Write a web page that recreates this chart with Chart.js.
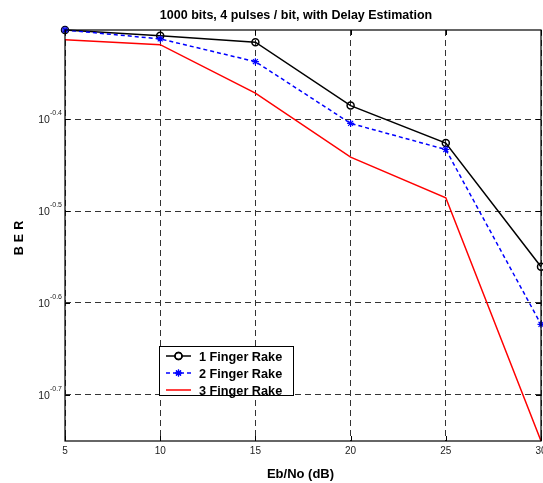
<!DOCTYPE html>
<html><head><meta charset="utf-8">
<script src="https://cdn.jsdelivr.net/npm/chart.js@4.4.0/dist/chart.umd.min.js"></script>
<style>html,body{margin:0;padding:0;background:#fff;overflow:hidden;}canvas{display:block;}</style>
</head><body>
<canvas id="c" width="551" height="483"></canvas>
<script>
const ebno = [5, 10, 15, 20, 25, 30];
const finger1 = [0.498, 0.491, 0.483, 0.412, 0.375, 0.275];
const finger2 = [0.498, 0.487, 0.460, 0.394, 0.369, 0.238];
const finger3 = [0.486, 0.480, 0.425, 0.362, 0.327, 0.1776];
const xTicks = [5, 10, 15, 20, 25, 30];
const yTickExponents = ['-0.7', '-0.6', '-0.5', '-0.4'];
const seriesNames = ['1 Finger Rake', '2 Finger Rake', '3 Finger Rake'];
const titleText = '1000 bits, 4 pulses / bit, with Delay Estimation';
const xLabel = 'Eb/No (dB)';
const yLabel = 'BER';

const FONT = '"Liberation Sans", Arial, Helvetica, sans-serif';
const toPts = arr => arr.map((v, i) => ({x: ebno[i], y: v}));
const yTickValues = yTickExponents.map(e => Math.pow(10, parseFloat(e)));

const datasets = [
  {label: seriesNames[0], data: toPts(finger1), borderColor: '#000', borderWidth: 1.5,
   pointStyle: 'circle', pointRadius: 3.5, pointBorderWidth: 1.5, pointBorderColor: '#000',
   pointBackgroundColor: 'rgba(0,0,0,0)', order: 3},
  {label: seriesNames[1], data: toPts(finger2), borderColor: '#0000ff', borderWidth: 1.5,
   borderDash: [4, 3], pointStyle: 'star', pointRadius: 3.5, pointBorderWidth: 1.2,
   pointBorderColor: '#0000ff', pointBackgroundColor: '#0000ff', order: 2},
  {label: seriesNames[2], data: toPts(finger3), borderColor: '#ff0000', borderWidth: 1.5,
   pointRadius: 0, order: 1}
];

const decor = {
  id: 'decor',
  afterDraw(chart) {
    const ctx = chart.ctx, a = chart.chartArea;
    const xs = chart.scales.x, ys = chart.scales.y;
    ctx.save();
    // frame
    ctx.strokeStyle = '#000'; ctx.lineWidth = 1.2; ctx.setLineDash([]);
    ctx.strokeRect(a.left, a.top, a.right - a.left, a.bottom - a.top);
    // inward ticks
    ctx.lineWidth = 1;
    ctx.beginPath();
    xTicks.forEach(t => {
      const px = Math.round(xs.getPixelForValue(t)) + 0.5;
      ctx.moveTo(px, a.bottom); ctx.lineTo(px, a.bottom - 5);
      ctx.moveTo(px, a.top); ctx.lineTo(px, a.top + 5);
    });
    yTickValues.forEach(v => {
      const py = Math.round(ys.getPixelForValue(v)) + 0.5;
      ctx.moveTo(a.left, py); ctx.lineTo(a.left + 5, py);
      ctx.moveTo(a.right, py); ctx.lineTo(a.right - 5, py);
    });
    ctx.stroke();
    // x tick labels
    ctx.fillStyle = '#222';
    ctx.font = '10px ' + FONT;
    ctx.textAlign = 'center'; ctx.textBaseline = 'middle';
    xTicks.forEach(t => ctx.fillText(String(t), xs.getPixelForValue(t), a.bottom + 10));
    // y tick labels with superscript
    yTickExponents.forEach((e, i) => {
      const py = ys.getPixelForValue(yTickValues[i]);
      ctx.font = '7px ' + FONT;
      const sw = ctx.measureText(e).width;
      ctx.textAlign = 'right'; ctx.textBaseline = 'middle';
      ctx.fillText(e, a.left - 3, py - 6);
      ctx.font = '10.5px ' + FONT;
      ctx.fillText('10', a.left - 3 - sw, py + 1);
    });
    // title
    ctx.fillStyle = '#000';
    ctx.font = 'bold 12.5px ' + FONT;
    ctx.textAlign = 'center'; ctx.textBaseline = 'middle';
    ctx.fillText(titleText, 296, 16);
    // x label
    ctx.font = 'bold 13px ' + FONT;
    ctx.fillText(xLabel, 300.5, 474);
    // y label
    ctx.save();
    ctx.translate(20, 238);
    ctx.rotate(-Math.PI / 2);
    ctx.font = 'bold 12.5px ' + FONT;
    ctx.textAlign = 'left';
    try { ctx.letterSpacing = '4px'; } catch (err) {}
    const lw = ctx.measureText(yLabel).width;
    ctx.fillText(yLabel, -(lw - 4) / 2, 0);
    ctx.restore();
    // legend
    const bx = 159.5, by = 346.5, bw = 134, bh = 49;
    ctx.fillStyle = '#fff';
    ctx.fillRect(bx, by, bw, bh);
    ctx.strokeStyle = '#000'; ctx.lineWidth = 1;
    ctx.strokeRect(bx, by, bw, bh);
    const rows = [356, 373, 390];
    datasets.forEach((d, i) => {
      const y = rows[i];
      ctx.strokeStyle = d.borderColor; ctx.lineWidth = d.borderWidth;
      ctx.setLineDash(d.borderDash || []);
      ctx.beginPath(); ctx.moveTo(166, y); ctx.lineTo(191, y); ctx.stroke();
      ctx.setLineDash([]);
      if (d.pointRadius > 0) {
        ctx.lineWidth = d.pointBorderWidth;
        Chart.helpers.drawPoint(ctx, {pointStyle: d.pointStyle, radius: d.pointRadius,
          borderWidth: d.pointBorderWidth, rotation: 0}, 178.5, y);
        ctx.strokeStyle = d.pointBorderColor;
        ctx.stroke();
      }
      ctx.fillStyle = '#000';
      ctx.font = 'bold 12.7px ' + FONT;
      ctx.textAlign = 'left'; ctx.textBaseline = 'middle';
      ctx.fillText(d.label, 199, y + 1);
    });
    ctx.restore();
  }
};

new Chart(document.getElementById('c'), {
  type: 'line',
  data: {datasets},
  options: {
    responsive: false, animation: false,
    layout: {padding: {left: 65, top: 30, right: 10, bottom: 42}},
    plugins: {legend: {display: false}, title: {display: false}, tooltip: {enabled: false}},
    elements: {line: {tension: 0}},
    datasets: {line: {clip: false}},
    scales: {
      x: {type: 'linear', min: 5, max: 30,
          afterBuildTicks: s => { s.ticks = xTicks.map(v => ({value: v})); },
          ticks: {display: false},
          grid: {drawTicks: false, color: '#333', lineWidth: 1},
          border: {display: false, dash: [6, 4]}},
      y: {type: 'logarithmic', min: Math.pow(10, -0.7505), max: 0.498,
          afterBuildTicks: s => { s.ticks = yTickValues.map(v => ({value: v})); },
          ticks: {display: false},
          grid: {drawTicks: false, color: '#333', lineWidth: 1},
          border: {display: false, dash: [6, 4]}}
    }
  },
  plugins: [decor]
});
</script>
</body></html>
